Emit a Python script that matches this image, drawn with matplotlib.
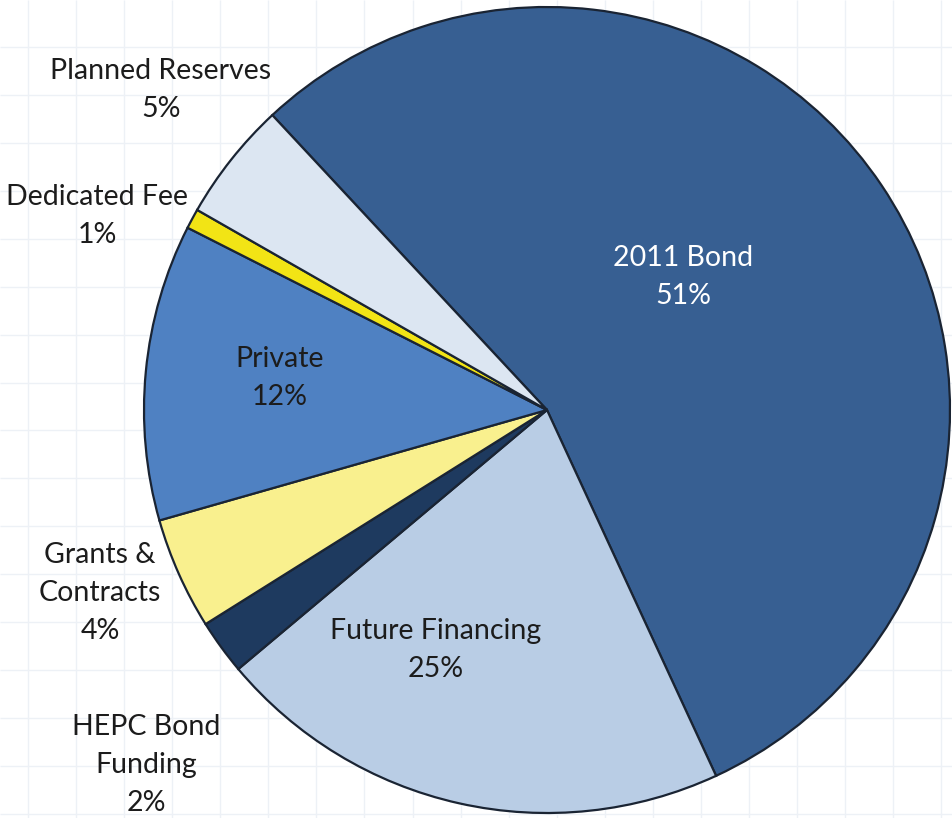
import matplotlib
matplotlib.use("Agg")
import matplotlib.pyplot as plt
import numpy as np

categories = ["2011 Bond", "Future Financing", "HEPC Bond\nFunding", "Grants &\nContracts",
              "Private", "Dedicated Fee", "Planned Reserves"]
values = [55.1, 20.8, 2.2, 4.5, 11.9, 0.8, 4.8]
pct_labels = ["51%", "25%", "2%", "4%", "12%", "1%", "5%"]
colors = ["#375F92", "#B9CDE5", "#1E3A5F", "#F9F08E", "#4F81C2", "#F2E415", "#DCE6F2"]

W, H = 953, 818
fig = plt.figure(figsize=(W / 100, H / 100), dpi=100)
fig.patch.set_facecolor("white")
ax = fig.add_axes([0, 0, 1, 1])

# faint spreadsheet grid in background
gx = np.arange(28, W, 48.07)
gy = np.arange(47, H + 5, 47.93)
ax.vlines(gx, 0, H, colors="#EDF1F6", linewidth=1, zorder=0)
ax.hlines(H - gy, 0, W, colors="#EDF1F6", linewidth=1, zorder=0)

cx, cy, r = 547, H - 410, 403
wedges, _ = ax.pie(values, colors=colors, startangle=132.97, counterclock=False,
                   center=(cx, cy), radius=r,
                   wedgeprops=dict(edgecolor="#1A2433", linewidth=1.6), frame=True)
for w in wedges:
    w.set_zorder(2)

ax.set_xlim(0, W)
ax.set_ylim(0, H)
ax.set_aspect("equal")
ax.axis("off")

font = ["Lato", "DejaVu Sans"]
fs = 20.5
# label positions in pixel coordinates (layout)
label_pos = [(683, 277), (436, 650), (146, 765), (100, 593), (280, 378), (97, 216), (161, 90)]
text_colors = ["white", "#1C1C1C", "#1C1C1C", "#1C1C1C", "#1C1C1C", "#1C1C1C", "#1C1C1C"]
for cat, pct, (lx, ly), tc in zip(categories, pct_labels, label_pos, text_colors):
    ax.text(lx, H - ly, f"{cat}\n{pct}", ha="center", va="center", fontsize=fs,
            family=font, color=tc, linespacing=1.58, zorder=5)

fig.savefig("out.png", dpi=100, facecolor="white")
